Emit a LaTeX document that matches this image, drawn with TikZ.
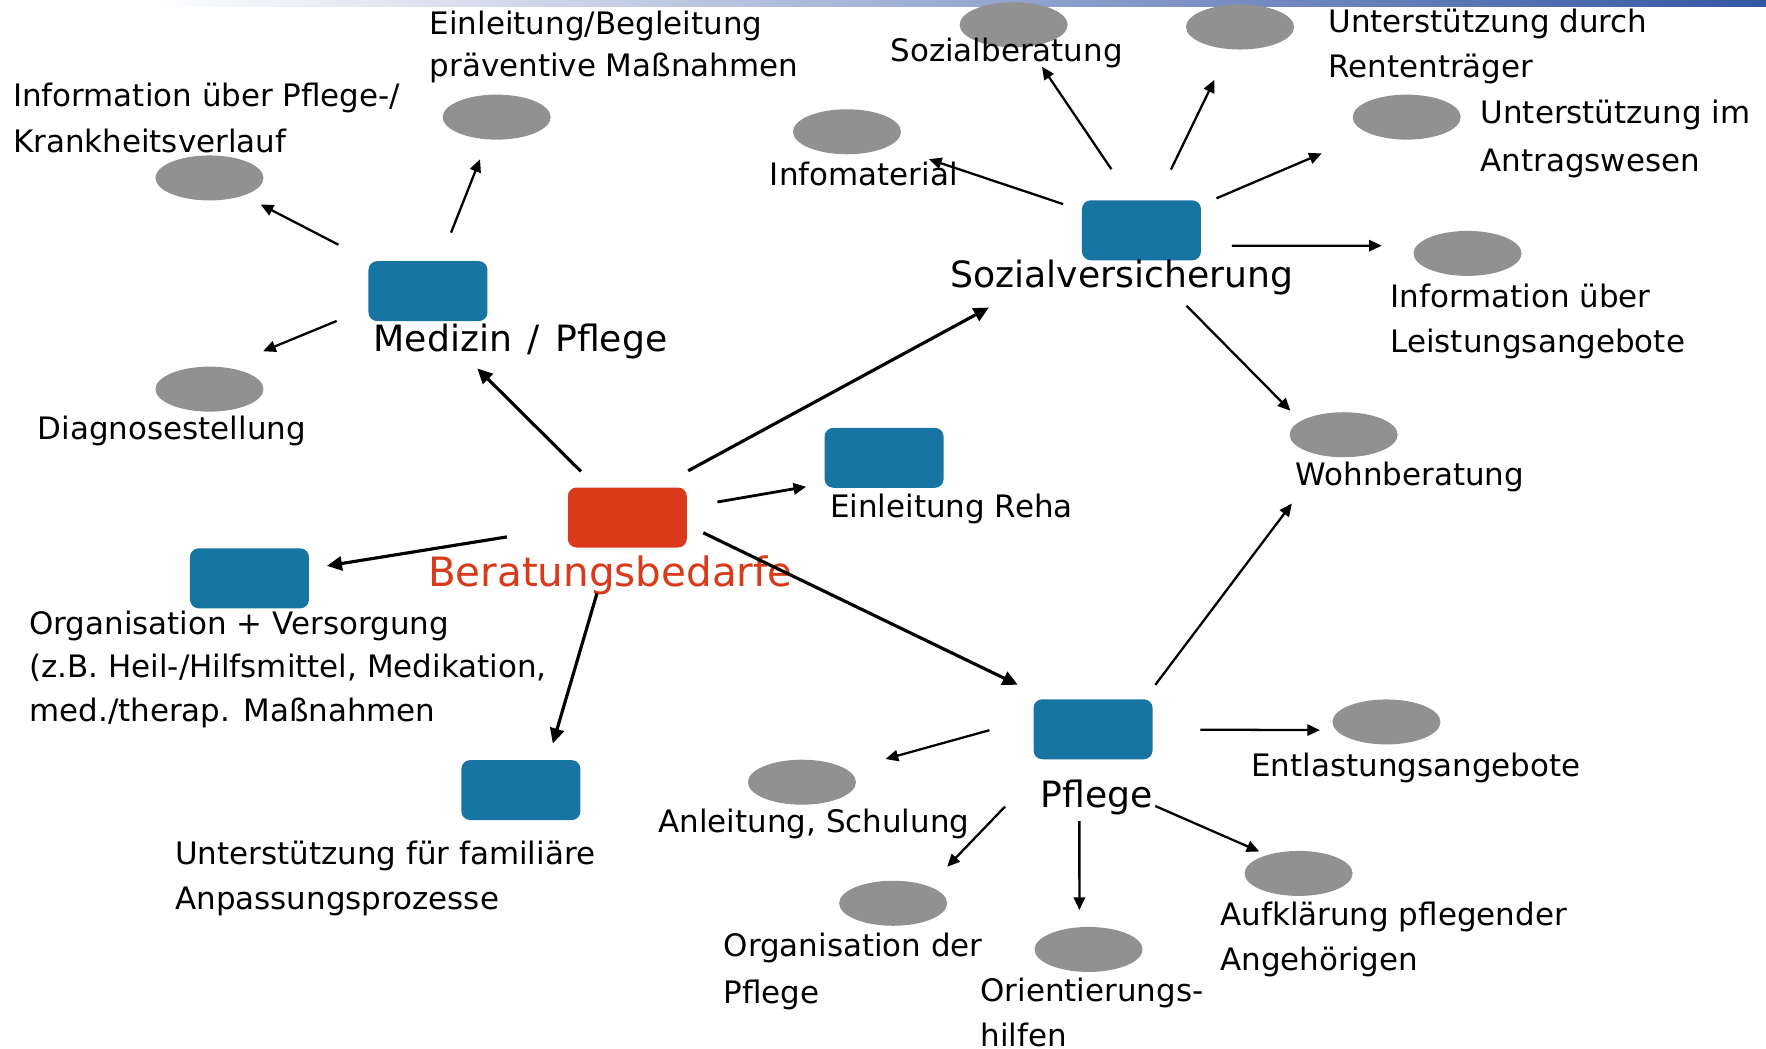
\documentclass[tikz,border=0pt]{standalone}
\usepackage{fontspec}
\setmainfont{DejaVu Sans}
\usetikzlibrary{arrows.meta,shapes.geometric}
\definecolor{boxblue}{RGB}{24,116,163}
\definecolor{boxred}{RGB}{218,58,26}
\definecolor{spotgray}{RGB}{145,145,145}
\definecolor{barblue}{RGB}{52,86,164}
\tikzset{
  topic/.style={rectangle,rounded corners=2.5pt,fill=boxblue,minimum width=1.19cm,minimum height=0.6cm,inner sep=0pt},
  spot/.style={ellipse,fill=spotgray,minimum width=1.08cm,minimum height=0.45cm,inner sep=0pt},
  lbl/.style={anchor=base west,inner sep=0pt,align=left,font=\fontsize{8.8}{12.8}\selectfont},
  biglbl/.style={lbl,font=\fontsize{10.3}{12}\selectfont},
  boldarr/.style={line width=0.9pt,-{Triangle[length=4.3pt,width=4pt]}}
}
\begin{document}
\begin{tikzpicture}[x=0.011263cm,y=-0.011263cm]
\useasboundingbox (0,0) rectangle (1568,931);
% top bar
\shade[left color=white,right color=barblue] (130,0) rectangle (1568,6);
% topics
\node[topic,fill=boxred] (ber) at (557,459.5) {};
\node[topic] (med) at (380,258.5) {};
\node[topic] (sv) at (1013.5,204.5) {};
\node[topic] (reha) at (785,406.5) {};
\node[topic] (org) at (221.5,513.5) {};
\node[topic] (fam) at (462.5,701.5) {};
\node[topic] (pfl) at (970.5,647.5) {};
% spots
\node[spot] (pflinfo) at (186,158) {};
\node[spot] (einl) at (441,104) {};
\node[spot] (diag) at (186,345.5) {};
\node[spot] (infomat) at (752,117) {};
\node[spot] (sozb) at (900,22) {};
\node[spot] (rente) at (1101,24) {};
\node[spot] (antrag) at (1249,104) {};
\node[spot] (leist) at (1303,225) {};
\node[spot] (wohn) at (1193,386) {};
\node[spot] (entl) at (1231,641) {};
\node[spot] (anl) at (712,694.5) {};
\node[spot] (orgpfl) at (793,802) {};
\node[spot] (orient) at (966.5,843) {};
\node[spot] (aufkl) at (1153,775.5) {};
% labels (anchor on the last line)
\node[lbl,font=\fontsize{8.8}{12}\selectfont] (einllbl) at (381,68) {Einleitung/Begleitung\\präventive Maßnahmen};
\node[lbl] (pflinfolbl) at (11,135.5) {Information über Pflege-/\\[0.4pt]Krankheitsverlauf};
\node[lbl] (diaglbl) at (33,390.5) {Diagnosestellung};
\node[biglbl] (medlbl) at (331,312.5) {Medizin\hspace{4.4pt}/\hspace{4.4pt}Pflege};
\node[lbl] (sozblbl) at (790,54.5) {Sozialberatung};
\node[lbl] (infomatlbl) at (683,165) {Infomaterial};
\node[lbl] (rentelbl) at (1179,68.7) {Unterstützung durch\\Rententräger};
\node[lbl] (antraglbl) at (1314,152.4) {Unterstützung im\\[1pt]Antragswesen};
\node[biglbl] (svlbl) at (843,255) {Sozialversicherung};
\node[lbl] (leistlbl) at (1234,313) {Information über\\Leistungsangebote};
\node[lbl] (wohnlbl) at (1150,431) {Wohnberatung};
\node[lbl] (rehalbl) at (736.5,459.5) {Einleitung Reha};
\node[lbl,font=\fontsize{11.5}{13}\selectfont,text=boxred] (berlbl) at (379.5,521) {Beratungsbedarfe};
\node[lbl,font=\fontsize{8.8}{12.3}\selectfont] (orglbl) at (25.5,640.2) {Organisation + Versorgung\\(z.B. Heil-/Hilfsmittel, Medikation,\\med./therap. Maßnahmen};
\node[lbl] (famlbl) at (155,807.4) {Unterstützung für familiäre\\Anpassungsprozesse};
\node[biglbl] (pfllbl) at (923.5,717) {Pflege};
\node[lbl] (entllbl) at (1110.5,689.5) {Entlastungsangebote};
\node[lbl] (anllbl) at (584,739.5) {Anleitung, Schulung};
\node[lbl] (orgpfllbl) at (642,890.8) {Organisation der\\[0.6pt]Pflege};
\node[lbl] (orientlbl) at (870,929) {Orientierungs-\\hilfen};
\node[lbl] (aufkllbl) at (1083,862) {Aufklärung pflegender\\Angehörigen};
% arrows
\begin{scope}[every edge/.style={draw=black,line width=0.65pt,-{Triangle[length=3.6pt,width=3.2pt]}}]
    \path (med.center) edge[shorten <=28.7pt,shorten >=16.4pt] (pflinfo.center);
    \path (med.center) edge[shorten <=17.9pt,shorten >=12.9pt] (einl.center);
    \path ([yshift=2.2pt]med.center) edge[shorten <=28.1pt,shorten >=16.5pt] ([yshift=4.5pt]diag.center);
    \path (ber.center) edge[boldarr,shorten <=18.6pt,shorten >=31.2pt] ([xshift=-8.1pt]med.center);
    \path ([yshift=3.9pt]ber.center) edge[boldarr,shorten <=19.7pt,shorten >=49.4pt] ([yshift=1.6pt]sv.center);
    \path (ber.center) edge[line width=0.8pt,shorten <=26pt,shorten >=22.5pt] ([yshift=-4.4pt]reha.center);
    \path (ber.center) edge[boldarr,shorten <=34.7pt,shorten >=22.3pt] (org.center);
    \path ([xshift=-2.3pt]ber.center) edge[boldarr,shorten <=22.5pt,shorten >=13.8pt] ([xshift=5.2pt]fam.center);
    \path ([yshift=6.1pt]ber.center) edge[boldarr,shorten <=24pt,shorten >=23.8pt] ([yshift=2.3pt]pfl.center);
    \path (sv.center) edge[shorten <=23.5pt,shorten >=24.6pt] (infomat.center);
    \path ([xshift=3.2pt]sv.center) edge[shorten <=21pt,shorten >=14.4pt] (sozb.center);
    \path (sv.center) edge[shorten <=19.2pt,shorten >=16.7pt] (rente.center);
    \path (sv.center) edge[shorten <=23.2pt,shorten >=26.3pt] (antrag.center);
    \path ([yshift=-4.36pt]sv.center) edge[shorten <=25.7pt,shorten >=24.4pt] ([yshift=2.2pt]leist.center);
    \path ([xshift=-8.4pt]sv.center) edge[shorten <=30.2pt,shorten >=9.6pt] ([xshift=-8.4pt]wohn.center);
    \path ([xshift=8.2pt]pfl.center) edge[shorten <=15.8pt,shorten >=24.5pt] (wohn.center);
    \path (pfl.center) edge[shorten <=30.5pt,shorten >=18.9pt] ([yshift=-2.4pt]entl.center);
    \path ([yshift=7.9pt]pfl.center) edge[shorten <=30.6pt,shorten >=24.7pt] (anl.center);
    \path ([xshift=-3.9pt]pfl.center) edge[shorten <=30.5pt,shorten >=14.4pt] ([xshift=5.4pt]orgpfl.center);
    \path ([xshift=-3.9pt]pfl.center) edge[shorten <=26.1pt,shorten >=11.2pt] ([xshift=-2.6pt]orient.center);
    \path ([yshift=-14.1pt]pfl.center) edge[shorten <=19.3pt,shorten >=12.2pt] ([yshift=1.35pt]aufkl.center);
\end{scope}
\end{tikzpicture}
\end{document}
